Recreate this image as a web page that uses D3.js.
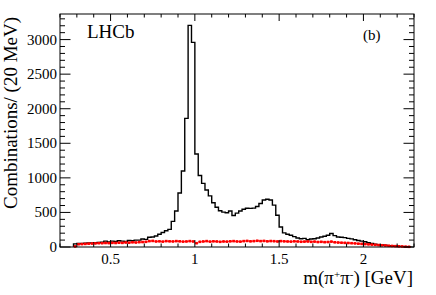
<!DOCTYPE html>
<html>
<head>
<meta charset="utf-8">
<script src="https://cdn.jsdelivr.net/npm/d3@7"></script>
<style>
  body { margin: 0; background: #fff; }
  svg text { font-family: "Liberation Serif", "Times New Roman", serif; fill: #000; }
</style>
</head>
<body>
<svg id="chart" width="436" height="295"></svg>
<script>
// bin low edges in GeV, 20 MeV wide
const binStart = 0.28
const binWidth = 0.02

// signal + background combinations (black histogram)
const counts = [
  45, 50, 52, 55, 58, 60, 62, 65, 70, 85,
  72, 85, 80, 90, 85, 80, 95, 90, 100, 100,
  115, 110, 140, 145, 160, 185, 210, 235, 255, 370,
  520, 780, 1100, 1860, 3205, 2960, 1345, 1035, 920, 825,
  740, 640, 575, 525, 505, 495, 520, 455, 490, 520,
  545, 560, 558, 562, 585, 630, 680, 690, 680, 605,
  460, 290, 205, 185, 170, 150, 130, 120, 125, 105,
  115, 120, 130, 145, 155, 170, 195, 165, 145, 140,
  135, 125, 118, 105, 95, 85, 75, 62, 50, 42,
  35, 30, 25, 20, 15, 10, 7, 5, 3, 2
]

// background estimate (red points)
const background = [
  8, 40, 42, 45, 48, 50, 52, 55, 55, 58,
  56, 60, 58, 62, 60, 65, 62, 68, 65, 70,
  72, 75, 85, 88, 80, 82, 78, 85, 82, 80,
  85, 82, 78, 80, 85, 80, 55, 75, 80, 85,
  78, 82, 80, 75, 80, 78, 82, 85, 80, 78,
  85, 88, 82, 85, 90, 85, 88, 82, 86, 84,
  80, 85, 82, 80, 78, 82, 80, 76, 78, 80,
  75, 78, 72, 75, 70, 72, 78, 68, 65, 62,
  60, 58, 55, 52, 48, 45, 42, 38, 35, 32,
  28, 25, 22, 18, 15, 12, 10, 8, 5, 3
]
const bkgErr = 12

const xTicks = [0.5, 1, 1.5, 2]
const yTicks = [0, 500, 1000, 1500, 2000, 2500, 3000]

const margin = {left: 60, right: 22, top: 14, bottom: 48}
const W = 436, H = 295
const innerW = W - margin.left - margin.right
const innerH = H - margin.top - margin.bottom

const svg = d3.select('#chart')
const g = svg.append('g').attr('transform', `translate(${margin.left},${margin.top})`)

const x = d3.scaleLinear().domain([0.2, 2.3]).range([0, innerW])
const y = d3.scaleLinear().domain([0, 3370]).range([innerH, 0])

// step histogram
let pts = [[binStart, 0]]
counts.forEach((c, i) => {
  let lo = binStart + i * binWidth
  pts.push([lo, c], [lo + binWidth, c])
})
pts.push([binStart + counts.length * binWidth, 0])

g.append('path')
  .datum(pts)
  .attr('d', d3.line().x(d => x(d[0])).y(d => y(d[1])))
  .attr('fill', 'none')
  .attr('stroke', '#000')
  .attr('stroke-width', 1.4)

// red background points
const red = g.append('g').attr('stroke', '#ff0000').attr('fill', '#ff0000')
background.forEach((b, i) => {
  let lo = binStart + i * binWidth
  let cx = x(lo + binWidth / 2)
  red.append('line')
    .attr('x1', x(lo)).attr('x2', x(lo + binWidth))
    .attr('y1', y(b)).attr('y2', y(b)).attr('stroke-width', 1.2)
  red.append('line')
    .attr('x1', cx).attr('x2', cx)
    .attr('y1', y(Math.max(b - bkgErr, 0))).attr('y2', y(b + bkgErr)).attr('stroke-width', 1)
  red.append('rect')
    .attr('x', cx - 1.3).attr('y', y(b) - 1.3)
    .attr('width', 2.6).attr('height', 2.6).attr('stroke', 'none')
})

// frame
g.append('rect')
  .attr('width', innerW).attr('height', innerH)
  .attr('fill', 'none').attr('stroke', '#000').attr('stroke-width', 1)

// ticks, ROOT style (inward on all sides)
const xMinor = d3.range(0.2, 2.3001, 0.1)
const yMinor = d3.range(0, 3370, 100)
const isMajorX = v => Math.abs(v * 2 - Math.round(v * 2)) < 1e-6
const isMajorY = v => v % 500 === 0

const tk = g.append('g').attr('stroke', '#000').attr('stroke-width', 1)
xMinor.forEach(v => {
  let len = isMajorX(v) ? 7 : 3.5
  let px = x(v)
  tk.append('line').attr('x1', px).attr('x2', px).attr('y1', innerH).attr('y2', innerH - len)
  tk.append('line').attr('x1', px).attr('x2', px).attr('y1', 0).attr('y2', len)
})
yMinor.forEach(v => {
  let len = isMajorY(v) ? 10.5 : 5
  let py = y(v)
  tk.append('line').attr('x1', 0).attr('x2', len).attr('y1', py).attr('y2', py)
  tk.append('line').attr('x1', innerW).attr('x2', innerW - len).attr('y1', py).attr('y2', py)
})

// tick labels
g.selectAll('.xl').data(xTicks).enter().append('text')
  .attr('x', d => x(d)).attr('y', innerH + 17)
  .attr('text-anchor', 'middle').style('font-size', '15px')
  .text(d => d)

g.selectAll('.yl').data(yTicks).enter().append('text')
  .attr('x', -3).attr('y', d => y(d) + 5)
  .attr('text-anchor', 'end').style('font-size', '15px')
  .text(d => d)

// axis titles
svg.append('text')
  .attr('x', 413).attr('y', 284)
  .attr('text-anchor', 'end').style('font-size', '19px')
  .html('m(π<tspan dy="-6" font-size="11px">+</tspan><tspan dy="6">π</tspan><tspan dy="-6" font-size="11px">-</tspan><tspan dy="6">) [GeV]</tspan>')

svg.append('text')
  .attr('transform', 'translate(17,113) rotate(-90)')
  .attr('text-anchor', 'middle').style('font-size', '19px')
  .text('Combinations/ (20 MeV)')

svg.append('text').attr('x', 87).attr('y', 38).style('font-size', '19px').text('LHCb')
svg.append('text').attr('x', 363).attr('y', 40).style('font-size', '15px').text('(b)')
</script>
</body>
</html>
